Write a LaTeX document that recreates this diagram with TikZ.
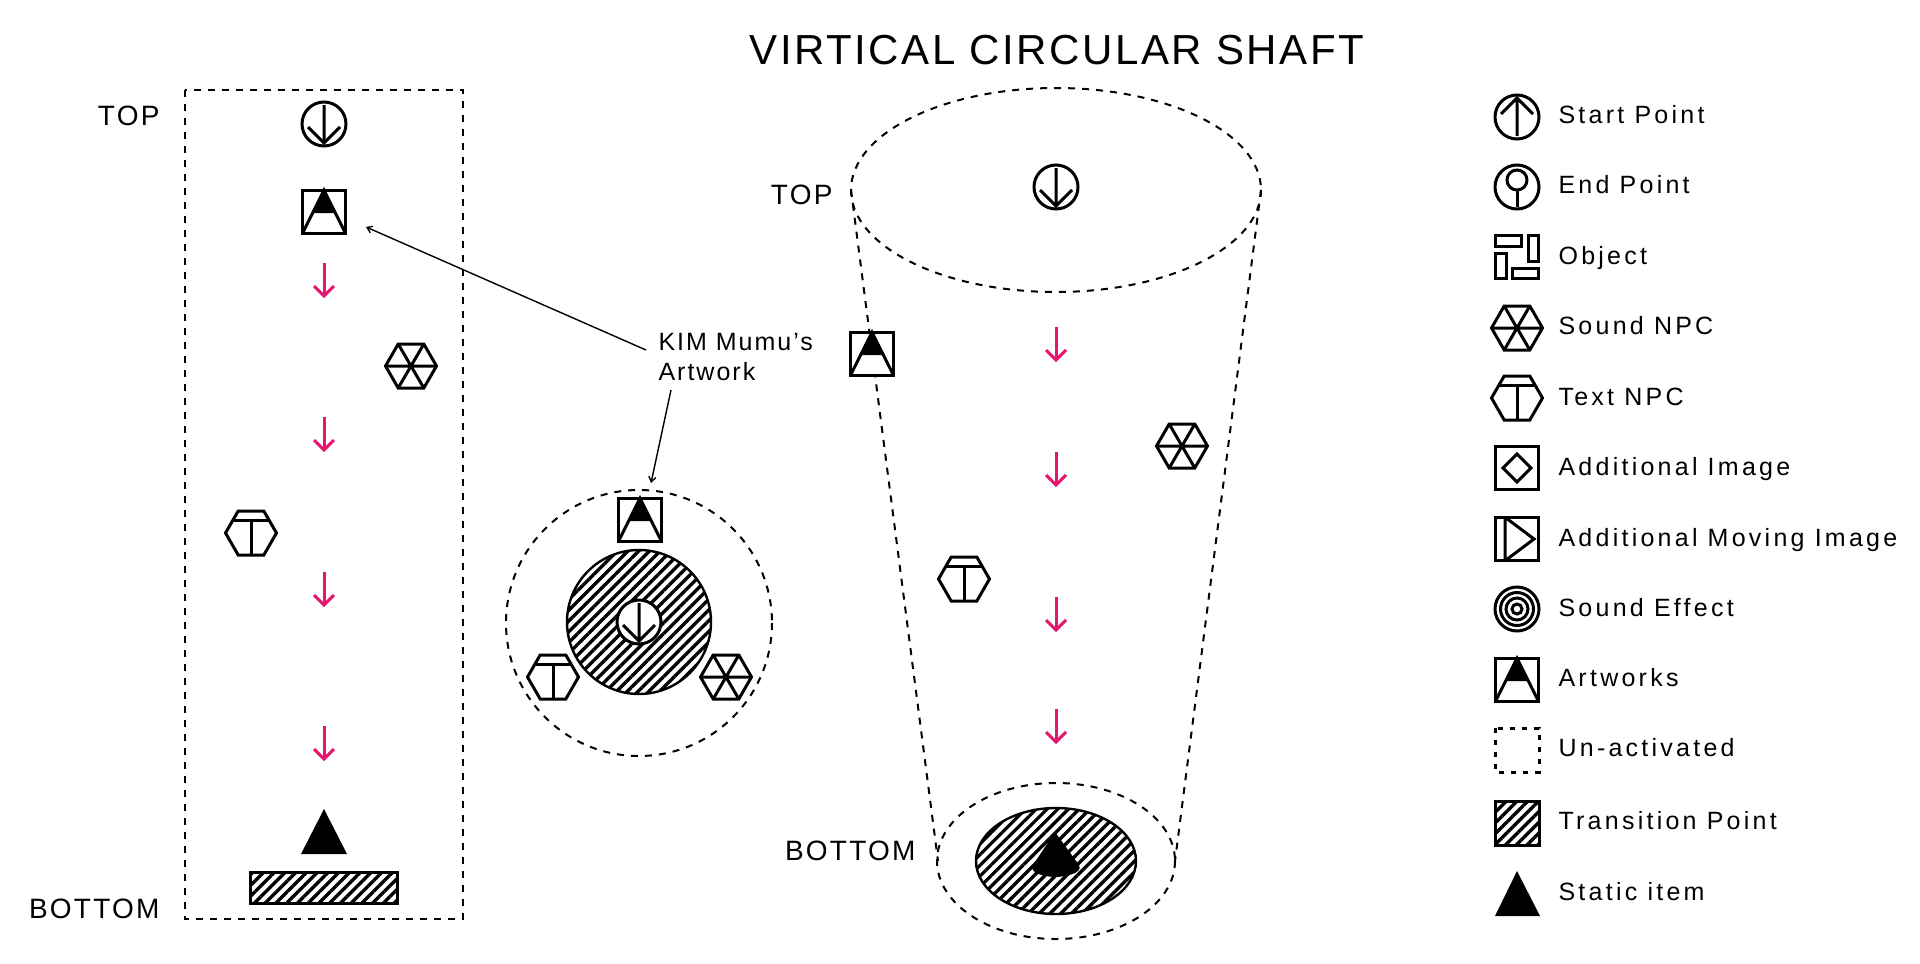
\documentclass[tikz,border=0pt]{standalone}
\usepackage{fontspec}
\setmainfont[LetterSpace=13]{Liberation Sans}
\newfontfamily\titlefont[LetterSpace=6]{Liberation Sans}
\newfontfamily\sidefont[LetterSpace=8]{Liberation Sans}
\usetikzlibrary{arrows.meta,calc,patterns.meta,positioning}
\definecolor{fallpink}{RGB}{232,20,110}
\tikzset{
  shaft/.style={draw,dashed,dash pattern=on 7pt off 7pt,line width=2pt},
  icon/.style={draw,line width=3pt,line join=miter},
  hatched/.style={pattern={Lines[angle=45,distance=7.6pt,line width=3.3pt]},pattern color=black},
  legendtext/.style={anchor=west,font=\fontsize{25}{25}\selectfont},
  sidetext/.style={anchor=east,font=\sidefont\fontsize{28}{28}\selectfont},
}
% marker with a down arrow
\newcommand{\markdown}[2]{%
  \begin{scope}[shift={(#1,#2)}]
    \draw[icon,fill=white] (0,0) circle (22);
    \draw[icon] (0,-19)--(0,19) (-16,3)--(0,19)--(16,3);
  \end{scope}
}
\newcommand{\markartwork}[2]{%
  \begin{scope}[shift={(#1,#2)}]
    \draw[icon,fill=white] (-21.8,-21.8) rectangle (21.8,21.8);
    \fill (0,-21.8)--(-11,1)--(11,1)--cycle;
    \draw[icon] (-21.8,21.8)--(0,-21.8)--(21.8,21.8);
  \end{scope}
}
\newcommand{\marksound}[2]{%
  \begin{scope}[shift={(#1,#2)}]
    \draw[icon,fill=white] (-25.5,0)--(-12.8,-22)--(12.8,-22)--(25.5,0)--(12.8,22)--(-12.8,22)--cycle;
    \draw[icon] (-25.5,0)--(25.5,0) (-12.8,-22)--(12.8,22) (12.8,-22)--(-12.8,22);
  \end{scope}
}
\newcommand{\marktext}[2]{%
  \begin{scope}[shift={(#1,#2)}]
    \draw[icon,fill=white] (-25.5,0)--(-12.8,-22)--(12.8,-22)--(25.5,0)--(12.8,22)--(-12.8,22)--cycle;
    \draw[icon] (-18,-13)--(18,-13) (0,-13)--(0,22);
  \end{scope}
}
\newcommand{\fallarrow}[3]{%
  \coordinate (#1a) at (#2,#3);
  \coordinate (#1b) at (#2,#3+33);
  \draw[draw=fallpink,line width=3pt] (#1a)--(#1b);
  \draw[draw=fallpink,line width=3pt] ($(#1b)+(-10,-10)$)--(#1b)--($(#1b)+(10,-10)$);
}
\begin{document}
\begin{tikzpicture}[x=1pt,y=-1pt]
  \useasboundingbox (0,0) rectangle (1920,964);
  \node[anchor=center,font=\titlefont\fontsize{42}{42}\selectfont] (title) at (1057,50) {VIRTICAL CIRCULAR SHAFT};
  % left panel
  \draw[shaft] (185,90) rectangle (463,919);
  \node[sidetext] (toplabel) at (163,116) {TOP};
  \node[sidetext] (bottomlabel) at (163,909) {BOTTOM};
  \markdown{324}{124}
  \markartwork{324}{212}
  \coordinate (artworkleft) at (366,227);
  \foreach \yy [count=\n] in {263,417,572,726}{\fallarrow{left\n}{324}{\yy}}
  \marksound{411}{366}
  \marktext{251}{533}
  \fill (324,809)--(347,854)--(301,854)--cycle;
  \draw[icon,hatched] (250.5,872.5) rectangle (397.5,903.5);
  % round view
  \draw[shaft] (639,623) circle (133);
  \draw[icon,hatched,line width=2.4pt] (639,622) circle (72);
  \markdown{639}{622}
  \markartwork{640}{520}
  \coordinate (artworkround) at (651,483);
  \marktext{553}{677}
  \marksound{726}{677}
  \node[anchor=north west,align=left,font=\sidefont\fontsize{25}{30}\selectfont] (artlabel) at (655,330) {KIM Mumu’s\\Artwork};
  \draw[line width=1.4pt,-{Straight Barb[length=5pt,width=7pt]}] (646,350)--(artworkleft);
  \draw[line width=1.4pt,-{Straight Barb[length=5pt,width=7pt]}] (671,390)--(artworkround);
  % shaft
  \draw[shaft] (1056,190) ellipse (205 and 102);
  \draw[shaft] (851,190)--(938,861);
  \draw[shaft] (1261,190)--(1175,861);
  \draw[shaft] (1056,861) ellipse (119 and 78);
  \draw[icon,hatched,line width=2.4pt] (1056,861) ellipse (80 and 53);
  \fill (1055,832)--(1079,865) .. controls (1084,874) and (1062,877) .. (1055,877) .. controls (1048,877) and (1028,874) .. (1033,865)--cycle;
  \node[sidetext] (shafttop) at (836,195) {TOP};
  \node[sidetext] (shaftbottom) at (919,851) {BOTTOM};
  \markdown{1056}{187}
  \markartwork{872}{354}
  \foreach \yy [count=\n] in {327,452,597,709}{\fallarrow{shaft\n}{1056}{\yy}}
  \marksound{1182}{446}
  \marktext{964}{579}
  % legend
  \begin{scope}[shift={(1517,117)}]
    \draw[icon] (0,0) circle (22);
    \draw[icon] (0,19)--(0,-19) (-16,-3)--(0,-19)--(16,-3);
  \end{scope}
  \begin{scope}[shift={(1517,187)}]
    \draw[icon] (0,0) circle (22);
    \draw[icon] (0,-7) circle (10);
    \draw[icon] (0,3)--(0,20);
  \end{scope}
  \begin{scope}[shift={(1517,257)}]
    \draw[icon] (-21.8,-21.8) rectangle (4,-11);
    \draw[icon] (11,-21.8) rectangle (21.8,4);
    \draw[icon] (-21.8,-4) rectangle (-11,21.8);
    \draw[icon] (-5,11) rectangle (21.8,21.8);
  \end{scope}
  \marksound{1517}{328}
  \marktext{1517}{398}
  \begin{scope}[shift={(1517,468)}]
    \draw[icon] (-21.8,-21.8) rectangle (21.8,21.8);
    \draw[icon] (-14,0)--(0,-14)--(14,0)--(0,14)--cycle;
  \end{scope}
  \begin{scope}[shift={(1517,539)}]
    \draw[icon] (-21.8,-21.8) rectangle (21.8,21.8);
    \draw[icon] (-12,-21.8)--(-12,21.8) (-12,-21.8)--(17,0)--(-12,21.8);
  \end{scope}
  \begin{scope}[shift={(1517,609)}]
    \foreach \rr in {22,16.5,11,5}{\draw[icon] (0,0) circle (\rr);}
  \end{scope}
  \markartwork{1517}{680}
  \draw[shaft,line width=3pt,dash pattern=on 5pt off 7pt] (1495,728) rectangle (1539,772);
  \draw[icon,hatched] (1495,801) rectangle (1539,845);
  \fill (1517,871)--(1540,916)--(1495,916)--cycle;
  \foreach \yy/\lab [count=\n] in {115/Start Point,185/End Point,258/Object,326/Sound NPC,397/Text NPC,469/Additional Image,540/Additional Moving Image,608/Sound Effect,678/Artworks,748/Un-activated,821/Transition Point,892/Static item}{
    \node[legendtext] (legend\n) at (1555,\yy) {\lab};
  }
\end{tikzpicture}
\end{document}
